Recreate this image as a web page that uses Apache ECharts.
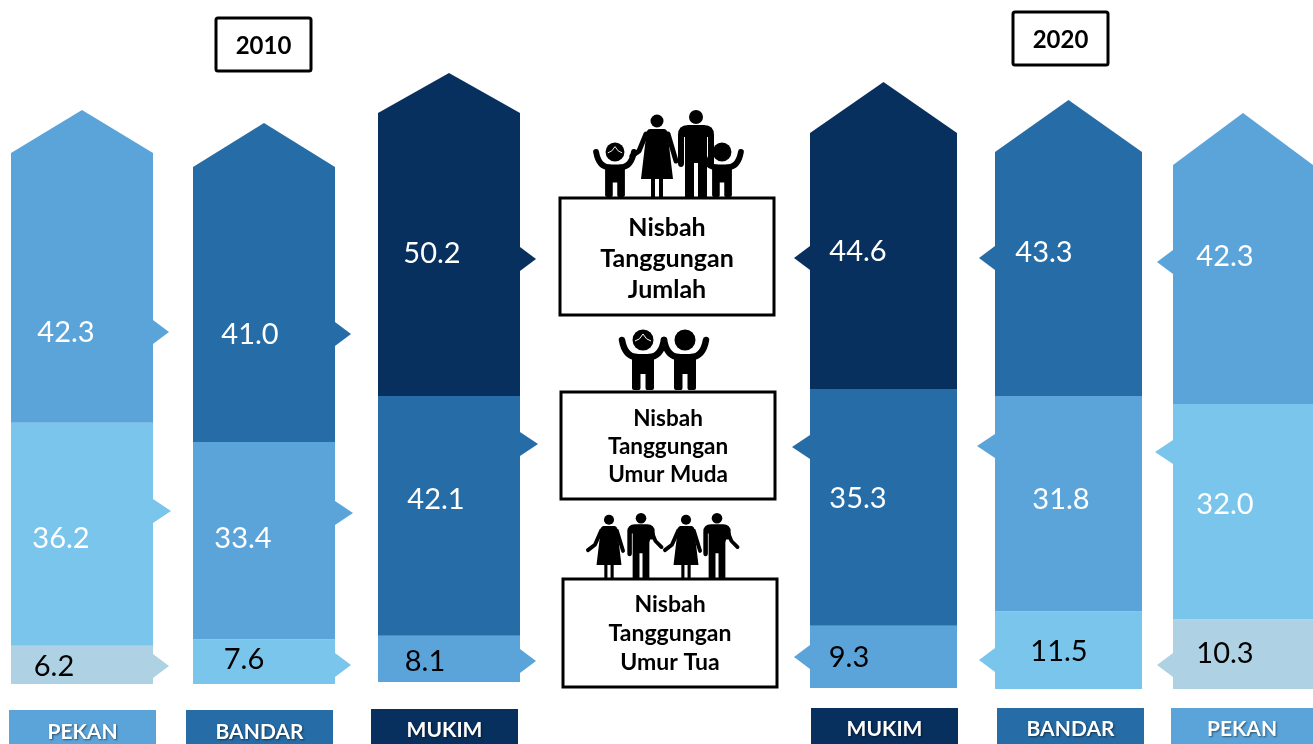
<!DOCTYPE html>
<html>
<head>
<meta charset="utf-8">
<title>Nisbah Tanggungan</title>
<script src="https://cdn.jsdelivr.net/npm/echarts@6/dist/echarts.min.js"></script>
<style>
html, body { margin: 0; padding: 0; background: #fff; }
#chart { width: 1313px; height: 744px; }
</style>
</head>
<body>
<div id="chart"></div>
<script>
// data: one entry per column, left to right
var categories = ['PEKAN', 'BANDAR', 'MUKIM', 'MUKIM', 'BANDAR', 'PEKAN'];
var jumlah = [42.3, 41.0, 50.2, 44.6, 43.3, 42.3];
var umurMuda = [36.2, 33.4, 42.1, 35.3, 31.8, 32.0];
var umurTua = [6.2, 7.6, 8.1, 9.3, 11.5, 10.3];
var years = ['2010', '2020'];
var boxTitles = [
    ['Nisbah', 'Tanggungan', 'Jumlah'],
    ['Nisbah', 'Tanggungan', 'Umur Muda'],
    ['Nisbah', 'Tanggungan', 'Umur Tua']
];

var ramp = ['#AED2E3', '#7AC5EC', '#5BA4DA', '#266CA6', '#08305F'];
var FONT = 'Lato, "Noto Sans", sans-serif';
var arrowLen = [16, 18, 16];

// layout of each column, fractions are [tua, muda, jumlah] along the segment from its top
var layout = [
    {left: 11, width: 142, top: 162, base: 684, shoulder: 9, apex: 52, side: 1, ramp: 0,
        arrow: [.529, .396, .652], label: [.529, .517, .652], labelX: [43, 50, 55], badge: [9, 710, 147], badgeText: 732},
    {left: 193, width: 142, top: 200, base: 684, shoulder: 33, apex: 77, side: 1, ramp: 1,
        arrow: [.577, .36, .554], label: [.443, .487, .554], labelX: [51, 50, 57], badge: [186, 710, 147], badgeText: 732},
    {left: 378, width: 142, top: 110, base: 682, shoulder: -3, apex: 37, side: 1, ramp: 2,
        arrow: [.544, .2, .521], label: [.544, .429, .5], labelX: [47, 58, 54], badge: [371, 709, 147], badgeText: 730},
    {left: 810, width: 147, top: 90, base: 688, shoulder: -43, apex: 8, side: -1, ramp: 2,
        arrow: [.502, .245, .562], label: [.502, .46, .538], labelX: [39, 48, 48], badge: [811, 708, 147], badgeText: 729},
    {left: 995, width: 147, top: 103, base: 689, shoulder: -49, apex: 3, side: -1, ramp: 1,
        arrow: [.627, .232, .529], label: [.512, .479, .509], labelX: [64, 66, 49], badge: [997, 708, 147], badgeText: 729},
    {left: 1173, width: 140, top: 119, base: 689, shoulder: -46, apex: 6, side: -1, ramp: 0,
        arrow: [.654, .223, .502], label: [.481, .464, .481], labelX: [52, 52, 52], badge: [1171, 708, 142], badgeText: 729}
];

var grids = [], xAxes = [], yAxes = [], series = [], graphics = [], icons = [];

function makeRender(col) {
    return function (params, api) {
        var seg = api.value(3);
        var yLow = api.coord([0, api.value(1)])[1];
        var yHigh = api.coord([0, api.value(2)])[1];
        var x0 = col.left, x1 = col.left + col.width;
        var fill = ramp[col.ramp + seg];
        var span = yLow - yHigh;
        var shape;
        if (seg === 2) {
            var sy = yHigh - col.shoulder;
            shape = [[x0, yLow], [x0, sy], [(x0 + x1) / 2, yHigh - col.apex], [x1, sy], [x1, yLow]];
        } else {
            shape = [[x0, yLow], [x0, yHigh], [x1, yHigh], [x1, yLow]];
        }
        var edge = col.side > 0 ? x1 : x0;
        var ay = yHigh + span * col.arrow[seg];
        return {
            type: 'group',
            children: [
                {type: 'polygon', shape: {points: shape}, style: {fill: fill}},
                {type: 'polygon', shape: {points: [[edge, ay - 12], [edge + col.side * arrowLen[seg], ay], [edge, ay + 12]]}, style: {fill: fill}},
                {type: 'text', style: {
                    text: (api.value(2) - api.value(1)).toFixed(1),
                    x: col.left + col.labelX[seg],
                    y: yHigh + span * col.label[seg] + 1,
                    align: 'center', verticalAlign: 'middle',
                    font: '29px ' + FONT,
                    fill: seg === 0 ? '#000' : '#fff'
                }}
            ]
        };
    };
}

categories.forEach(function (name, i) {
    var col = layout[i];
    var a = umurTua[i], b = a + umurMuda[i], c = b + jumlah[i];
    grids.push({left: col.left, width: col.width, top: col.top, height: col.base - col.top});
    xAxes.push({type: 'category', gridIndex: i, data: [name], show: false});
    yAxes.push({type: 'value', gridIndex: i, min: 0, max: c, show: false});
    series.push({
        type: 'custom',
        name: name,
        xAxisIndex: i,
        yAxisIndex: i,
        clip: false,
        encode: {x: 0, y: [1, 2]},
        renderItem: makeRender(col),
        data: [[0, 0, a, 0], [0, a, b, 1], [0, b, c, 2]]
    });
    // column name under the bar
    graphics.push({type: 'rect', shape: {x: col.badge[0], y: col.badge[1], width: col.badge[2], height: 744 - col.badge[1]},
        style: {fill: ramp[col.ramp + 2]}});
    graphics.push({type: 'text', style: {
        text: name, x: col.badge[0] + col.badge[2] / 2, y: col.badgeText,
        align: 'center', verticalAlign: 'middle', font: 'bold 21px ' + FONT, fill: '#fff',
        textShadowColor: 'rgba(0,0,0,0.5)', textShadowBlur: 2, textShadowOffsetX: 1, textShadowOffsetY: 1
    }});
});

function box(x, y, w, h, lines, lineY, size) {
    graphics.push({type: 'rect', shape: {x: x, y: y, width: w, height: h}, style: {fill: '#fff', stroke: '#000', lineWidth: 3}, z: 5});
    lines.forEach(function (t, i) {
        graphics.push({type: 'text', z: 6, style: {
            text: t, x: x + w / 2, y: lineY[i], align: 'center', verticalAlign: 'middle',
            font: 'bold ' + size + 'px ' + FONT, fill: '#000'
        }});
    });
}

function yearBox(x, y, t) {
    graphics.push({type: 'rect', shape: {x: x, y: y, width: 95, height: 53, r: 2}, style: {fill: '#fff', stroke: '#000', lineWidth: 3}});
    graphics.push({type: 'text', style: {
        text: t, x: x + 47.5, y: y + 28, align: 'center', verticalAlign: 'middle',
        font: 'bold 24px ' + FONT, fill: '#000'
    }});
}

// pictogram helpers, origin at the feet
function icon(cx, foot, s, pathFill, strokes, heads, hair, armWidth) {
    var group = {type: 'group', x: cx, y: foot, scaleX: s, scaleY: s, children: []};
    strokes.forEach(function (d) {
        group.children.push({type: 'path', shape: {pathData: d}, style: {fill: 'none', stroke: '#000', lineWidth: armWidth || 5, lineCap: 'round', lineJoin: 'round'}});
    });
    group.children.push({type: 'path', shape: {pathData: pathFill}, style: {fill: '#000'}});
    heads.forEach(function (h) {
        group.children.push({type: 'circle', shape: {cx: h[0], cy: h[1], r: h[2]}, style: {fill: '#000'}});
    });
    if (hair) {
        group.children.push({type: 'path', shape: {pathData: hair}, style: {fill: 'none', stroke: '#fff', lineWidth: 1}});
    }
    icons.push(group);
}

var MAN = 'M-18,-62 Q-18,-72 -8,-72 L8,-72 Q18,-72 18,-62 L18,-34 Q18,-30 15,-30 Q12,-30 12,-34 L12,-60 L11,-60 L11,0 L2,0 L2,-34 L-2,-34 L-2,0 L-11,0 L-11,-60 L-12,-60 L-12,-34 Q-12,-30 -15,-30 Q-18,-30 -18,-34 Z';
var MAN_OUT = 'M-18,-62 Q-18,-72 -8,-72 L8,-72 Q18,-72 18,-62 L18,-52 L12,-52 L11,-48 L11,0 L2,0 L2,-34 L-2,-34 L-2,0 L-11,0 L-11,-60 L-12,-60 L-12,-34 Q-12,-30 -15,-30 Q-18,-30 -18,-34 Z';
var WOMAN = 'M-7,-68 L7,-68 Q11,-68 11,-60 L16,-18 L6,-18 L6,0 L2,0 L2,-18 L-2,-18 L-2,0 L-6,0 L-6,-18 L-16,-18 L-11,-60 Q-11,-68 -7,-68 Z';
var CHILD = 'M-11,-36 L11,-36 L11,-2 Q11,0 9,0 L4,0 Q2.5,0 2.5,-2 L2.5,-16 L-2.5,-16 L-2.5,-2 Q-2.5,0 -4,0 L-9,0 Q-11,0 -11,-2 Z';
var CHILD_ARMS = ['M-21,-50 Q-18,-33 -6,-33', 'M21,-50 Q18,-33 6,-33'];
var GIRL_HAIR = 'M-8,-49 Q-3,-50 0,-56 Q3,-50 8,-49';

function child(cx, foot, s, hair) { icon(cx, foot, s, CHILD, CHILD_ARMS, [[0, -50, 10.5]], hair, 6.5); }
function man(cx, foot, s) { icon(cx, foot, s, MAN, [], [[0, -80, 7]]); }
function manOut(cx, foot, s) { icon(cx, foot, s, MAN_OUT, ['M15,-60 L19,-50 L27,-42'], [[0, -80, 7]]); }
function woman(cx, foot, s, arms) { icon(cx, foot, s, WOMAN, arms, [[0, -76, 6.5]]); }

// family above the first box
child(615, 197, .9, GIRL_HAIR);
woman(657, 197, 1, ['M-11,-63 L-18,-46 L-25,-41', 'M11,-63 L19,-36']);
man(696, 197, 1);
child(722, 197, .9);
// two children above the second box
child(643, 390, 1, GIRL_HAIR);
child(685, 390, 1);
// adults above the third box
woman(609, 579, .78, ['M-10,-62 L-18,-44 L-27,-37', 'M10,-62 L18,-36']);
manOut(641, 579, .76);
woman(686, 579, .78, ['M-10,-62 L-18,-44 L-27,-37', 'M10,-62 L18,-36']);
manOut(717, 579, .76);

series.push({
    type: 'custom',
    name: 'icons',
    coordinateSystem: 'none',
    silent: true,
    data: [[0]],
    renderItem: function () {
        return {type: 'group', children: icons};
    }
});

box(560, 198, 214, 117, boxTitles[0], [228, 259, 290], 25);
box(561, 392, 214, 107, boxTitles[1], [419, 447, 475], 22.5);
box(563, 579, 214, 108, boxTitles[2], [605, 634, 663], 23);
yearBox(216, 18, years[0]);
yearBox(1013, 12, years[1]);

var chart = echarts.init(document.getElementById('chart'), null, {renderer: 'canvas'});
chart.setOption({
    animation: false,
    backgroundColor: '#fff',
    grid: grids,
    xAxis: xAxes,
    yAxis: yAxes,
    series: series,
    graphic: {elements: graphics}
});
</script>
</body>
</html>
